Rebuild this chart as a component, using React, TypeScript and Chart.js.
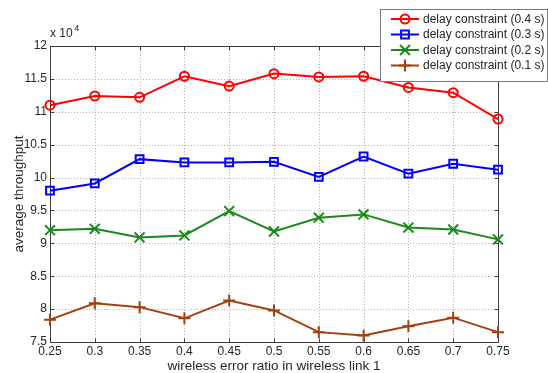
import React, { useEffect, useRef } from "react";
import { Chart, registerables } from "chart.js";
import { drawPoint } from "chart.js/helpers";

Chart.register(...registerables);

const xLabels = ["0.25", "0.3", "0.35", "0.4", "0.45", "0.5", "0.55", "0.6", "0.65", "0.7", "0.75"];
// values in units of 10^4
const delay04 = [11.1, 11.24, 11.22, 11.54, 11.39, 11.58, 11.53, 11.54, 11.37, 11.29, 10.89];
const delay03 = [9.8, 9.91, 10.28, 10.23, 10.23, 10.24, 10.01, 10.32, 10.06, 10.21, 10.12];
const delay02 = [9.2, 9.22, 9.09, 9.12, 9.49, 9.18, 9.39, 9.44, 9.24, 9.21, 9.06];
const delay01 = [7.84, 8.09, 8.03, 7.86, 8.13, 7.98, 7.65, 7.6, 7.74, 7.87, 7.65];
const seriesNames = [
  "delay constraint (0.4 s)",
  "delay constraint (0.3 s)",
  "delay constraint (0.2 s)",
  "delay constraint (0.1 s)",
];
const yMin = 7.5;
const yMax = 12;
const yStep = 0.5;
const xTitle = "wireless error ratio in wireless link 1";
const yTitle = "average throughput";
const exponentBase = "x 10";
const exponentPower = "4";

const FONT = "'Liberation Sans', Arial, Helvetica, sans-serif";
const TEXT = "#262626";

const framePlugin = {
  id: "frame",
  beforeDatasetsDraw(chart: any) {
    const { ctx, chartArea: a, scales } = chart;
    ctx.save();
    // dotted grid
    ctx.strokeStyle = "#b0b0b0";
    ctx.lineWidth = 1;
    ctx.setLineDash([1, 2]);
    ctx.beginPath();
    scales.x.ticks.forEach((_t: any, i: number) => {
      const px = Math.round(scales.x.getPixelForTick(i)) + 0.5;
      ctx.moveTo(px, a.top);
      ctx.lineTo(px, a.bottom);
    });
    scales.y.ticks.forEach((_t: any, i: number) => {
      const py = Math.round(scales.y.getPixelForTick(i)) + 0.5;
      ctx.moveTo(a.left, py);
      ctx.lineTo(a.right, py);
    });
    ctx.stroke();
    ctx.setLineDash([]);

    ctx.strokeStyle = "#3a3a3a";
    ctx.lineWidth = 1;
    const L = Math.round(a.left) + 0.5;
    const R = Math.round(a.right) + 0.5;
    const T = Math.round(a.top) + 0.5;
    const B = Math.round(a.bottom) + 0.5;
    ctx.strokeRect(L, T, R - L, B - T);
    const tl = 4;
    ctx.beginPath();
    scales.x.ticks.forEach((_t: any, i: number) => {
      const px = Math.round(scales.x.getPixelForTick(i)) + 0.5;
      ctx.moveTo(px, B);
      ctx.lineTo(px, B - tl);
      ctx.moveTo(px, T);
      ctx.lineTo(px, T + tl);
    });
    scales.y.ticks.forEach((_t: any, i: number) => {
      const py = Math.round(scales.y.getPixelForTick(i)) + 0.5;
      ctx.moveTo(L, py);
      ctx.lineTo(L + tl, py);
      ctx.moveTo(R, py);
      ctx.lineTo(R - tl, py);
    });
    ctx.stroke();
    ctx.restore();
  },
  afterDraw(chart: any) {
    const { ctx, chartArea: a } = chart;
    ctx.save();
    // exponent label
    ctx.fillStyle = TEXT;
    ctx.textBaseline = "alphabetic";
    ctx.textAlign = "left";
    ctx.font = `12px ${FONT}`;
    ctx.fillText(exponentBase, a.left, a.top - 9);
    const w = ctx.measureText(exponentBase).width;
    ctx.font = `9px ${FONT}`;
    ctx.fillText(exponentPower, a.left + w + 1.5, a.top - 15);

    // legend
    const bx = 380.5, by = 9.5, bw = 167, bh = 72;
    ctx.fillStyle = "#ffffff";
    ctx.fillRect(bx, by, bw, bh);
    ctx.strokeStyle = "#7a7a7a";
    ctx.lineWidth = 1;
    ctx.strokeRect(bx, by, bw, bh);
    const rows = [19, 34.5, 50, 65.5];
    chart.data.datasets.forEach((ds: any, i: number) => {
      const y = rows[i];
      ctx.strokeStyle = ds.borderColor;
      ctx.lineWidth = 2;
      ctx.beginPath();
      ctx.moveTo(391, y);
      ctx.lineTo(419, y);
      ctx.stroke();
      ctx.fillStyle = "rgba(0,0,0,0)";
      ctx.lineWidth = 2;
      drawPoint(ctx, { pointStyle: ds.pointStyle, radius: ds.pointRadius, borderWidth: 2, rotation: 0 } as any, 405, y);
      ctx.fillStyle = TEXT;
      ctx.font = `12px ${FONT}`;
      ctx.textBaseline = "middle";
      ctx.textAlign = "left";
      ctx.fillText(ds.label, 423, y + 0.5);
    });
    ctx.restore();
  },
};

function makeDataset(label: string, data: number[], color: string, style: string, radius: number) {
  return {
    label,
    data,
    borderColor: color,
    backgroundColor: "rgba(0,0,0,0)",
    borderWidth: 2,
    pointStyle: style,
    pointRadius: radius,
    pointBorderWidth: 2,
    pointBorderColor: color,
    pointBackgroundColor: "rgba(0,0,0,0)",
    pointHoverRadius: radius,
    tension: 0,
    clip: false as any,
  };
}

export default function App() {
  const ref = useRef<HTMLCanvasElement>(null);
  useEffect(() => {
    if (!ref.current) return;
    const chart = new Chart(ref.current, {
      type: "line",
      data: {
        labels: xLabels,
        datasets: [
          makeDataset(seriesNames[0], delay04, "#ff0000", "circle", 4.5),
          makeDataset(seriesNames[1], delay03, "#0000ff", "rect", 5.5),
          makeDataset(seriesNames[2], delay02, "#1a8a1a", "crossRot", 7),
          makeDataset(seriesNames[3], delay01, "#a3400f", "cross", 6),
        ],
      },
      options: {
        responsive: false,
        animation: false,
        devicePixelRatio: 1,
        layout: { padding: { left: 0, top: 46, right: 50, bottom: 0 } },
        plugins: {
          legend: { display: false },
          tooltip: { enabled: false },
          title: { display: false },
        },
        scales: {
          x: {
            type: "category",
            offset: false,
            grid: { display: false, drawTicks: false },
            border: { display: false },
            ticks: {
              padding: 2,
              color: TEXT,
              font: { family: FONT, size: 12 },
              maxRotation: 0,
              autoSkip: false,
            },
            title: {
              display: true,
              text: xTitle,
              color: TEXT,
              font: { family: FONT, size: 13.5, lineHeight: 1 },
              padding: { top: 0, bottom: 0 },
            },
            afterFit(scale: any) {
              scale.height = 31;
            },
          },
          y: {
            type: "linear",
            min: yMin,
            max: yMax,
            grid: { display: false, drawTicks: false },
            border: { display: false },
            ticks: {
              stepSize: yStep,
              padding: 3,
              color: TEXT,
              font: { family: FONT, size: 12 },
              callback: (v: any) => String(Math.round(Number(v) * 100) / 100),
            },
            title: {
              display: true,
              text: yTitle,
              color: TEXT,
              font: { family: FONT, size: 13.5, lineHeight: 1 },
              padding: { top: 13, bottom: 0 },
            },
            afterFit(scale: any) {
              scale.width = 50;
            },
          },
        },
      },
      plugins: [framePlugin],
    });
    return () => chart.destroy();
  }, []);
  return (
    <div style={{ position: "absolute", left: 0, top: 0, width: 548, height: 373, background: "#fff" }}>
      <canvas ref={ref} width={548} height={373} style={{ width: 548, height: 373, display: "block" }} />
    </div>
  );
}
